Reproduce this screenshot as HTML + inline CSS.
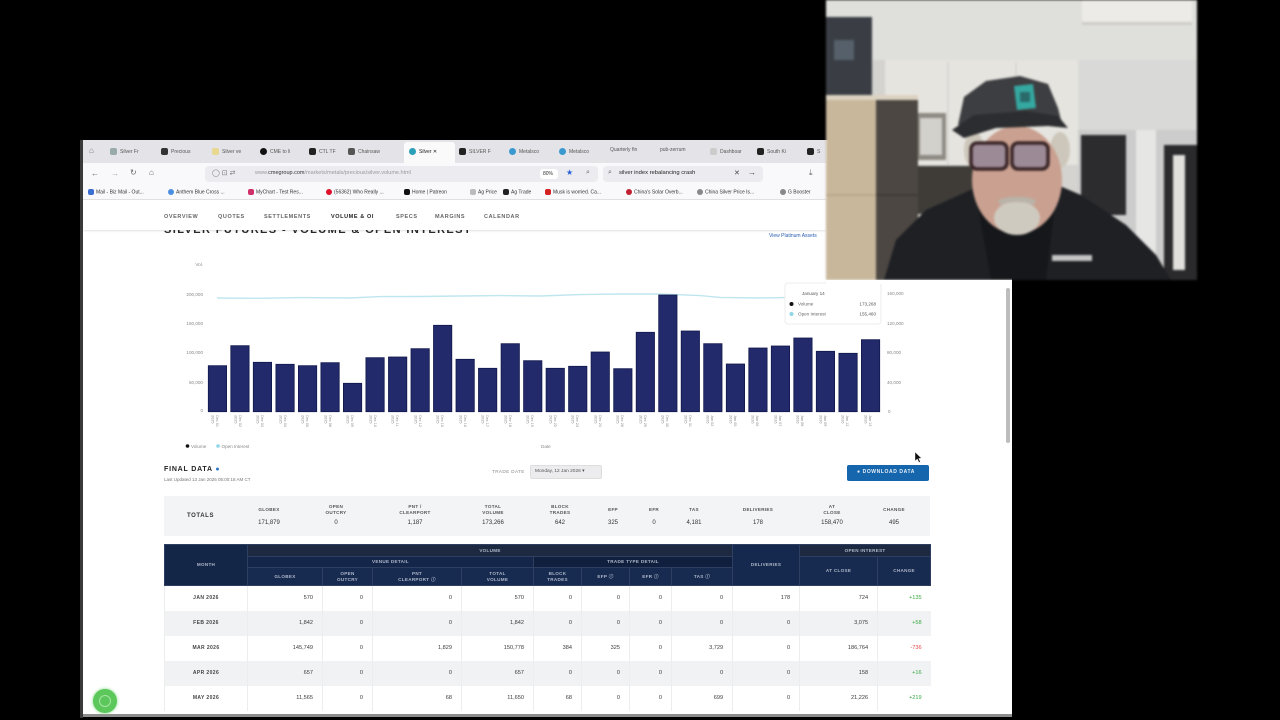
<!DOCTYPE html>
<html><head><meta charset="utf-8">
<style>
*{margin:0;padding:0;box-sizing:border-box}
body{width:1280px;height:720px;background:#000;position:relative;overflow:hidden;font-family:"Liberation Sans",sans-serif}
.a{position:absolute}
.t{position:absolute;white-space:nowrap;line-height:1}
.tab{position:absolute;top:148px;font-size:5px;color:#555;white-space:nowrap;line-height:1}
.tab i{display:inline-block;width:7px;height:7px;border-radius:2px;margin-right:3px;vertical-align:middle}
.bm{position:absolute;top:189px;font-size:5px;color:#333;white-space:nowrap;line-height:1}
.bm i{display:inline-block;width:6px;height:6px;border-radius:2px;margin-right:2px;vertical-align:middle}
.nav{position:absolute;top:214px;font-size:5.5px;color:#666;letter-spacing:0.6px;font-weight:bold;white-space:nowrap}
.th{position:absolute;font-size:4.6px;font-weight:bold;color:#555;text-align:center;line-height:6px;letter-spacing:0.3px}
.tv{position:absolute;top:520px;font-size:6px;color:#333;text-align:center}
table{border-collapse:collapse;table-layout:fixed;position:absolute;left:164px;top:544px;width:766px}
td{padding:0;overflow:hidden;white-space:nowrap}
.hd td{background:#172a50;color:#aeb7c8;font-size:4.6px;font-weight:bold;text-align:center;border:1px solid #2e3f62;letter-spacing:0.3px;line-height:5.5px}
.r td{height:25px;font-size:5.6px;color:#3a3a3a;text-align:right;padding-right:9px;border-left:1px solid #eceded}
.r td:first-child{text-align:center;padding-right:0;font-weight:bold;color:#444;font-size:5px;letter-spacing:0.4px}
.r.g td{background:#f1f2f4}
.up{color:#3aa845!important}
.dn{color:#e04848!important}
</style></head><body>

<!-- browser window frame -->
<div class="a" style="left:80px;top:140px;width:3px;height:578px;background:#3a3a3a"></div>
<div class="a" style="left:83px;top:140px;width:929px;height:575px;background:#fff"></div>
<div class="a" style="left:83px;top:714px;width:929px;height:3px;background:#8d8d8d"></div>

<!-- tab bar -->
<div class="a" style="left:83px;top:140px;width:743px;height:23px;background:#e4e4e8"></div>
<div class="a" style="left:404px;top:142px;width:51px;height:21px;background:#fafafb;border-radius:3px 3px 0 0"></div>
<div class="t" style="left:89px;top:147px;font-size:8px;color:#777">⌂</div>
<div class="tab" style="left:110px"><i style="background:#9aa"></i>Silver Fr</div>
<div class="tab" style="left:161px"><i style="background:#333"></i>Precious</div>
<div class="tab" style="left:212px"><i style="background:#e8d890"></i>Silver ve</div>
<div class="tab" style="left:260px"><i style="background:#111;border-radius:50%"></i>CME to li</div>
<div class="tab" style="left:309px"><i style="background:#222"></i>CTL TF</div>
<div class="tab" style="left:348px"><i style="background:#555"></i>Chainsaw</div>
<div class="tab" style="left:409px;color:#222"><i style="background:#2a9fb8;border-radius:50%"></i>Silver ✕</div>
<div class="tab" style="left:459px"><i style="background:#222"></i>SILVER F</div>
<div class="tab" style="left:509px"><i style="background:#3a9ad0;border-radius:50%"></i>Metalsco</div>
<div class="tab" style="left:559px"><i style="background:#3a9ad0;border-radius:50%"></i>Metalsco</div>
<div class="tab" style="left:610px">Quarterly fin</div>
<div class="tab" style="left:660px">pub-zerrum</div>
<div class="tab" style="left:710px"><i style="background:#ccc"></i>Dashboar</div>
<div class="tab" style="left:757px"><i style="background:#222"></i>South Ki</div>
<div class="tab" style="left:807px"><i style="background:#222"></i>S</div>

<!-- address row -->
<div class="a" style="left:83px;top:163px;width:743px;height:37px;background:#f9f9fb"></div>
<div class="t" style="left:91px;top:170px;font-size:8px;color:#666">←</div>
<div class="t" style="left:111px;top:170px;font-size:8px;color:#aaa">→</div>
<div class="t" style="left:130px;top:169px;font-size:8px;color:#666">↻</div>
<div class="t" style="left:149px;top:169px;font-size:8px;color:#666">⌂</div>
<div class="a" style="left:205px;top:166px;width:393px;height:16px;background:#ececf0;border-radius:4px"></div>
<div class="t" style="left:212px;top:170px;font-size:7px;color:#777">◯ ⊡ ⇄</div>
<div class="t" style="left:255px;top:171px;font-size:5.5px;color:#999">www.<span style="color:#333">cmegroup.com</span>/markets/metals/precious/silver.volume.html</div>
<div class="a" style="left:540px;top:169px;width:18px;height:10px;background:#fff;border-radius:3px"></div>
<div class="t" style="left:543px;top:172px;font-size:5px;color:#333">80%</div>
<div class="t" style="left:566px;top:169px;font-size:8px;color:#2a62d6">★</div>
<div class="t" style="left:586px;top:169px;font-size:7px;color:#666">⌕</div>
<div class="a" style="left:603px;top:166px;width:160px;height:16px;background:#ececf0;border-radius:4px"></div>
<div class="t" style="left:608px;top:169px;font-size:7px;color:#666">⌕</div>
<div class="t" style="left:619px;top:171px;font-size:5.8px;color:#222">silver index rebalancing crash</div>
<div class="t" style="left:734px;top:170px;font-size:7px;color:#444">✕</div>
<div class="t" style="left:748px;top:169px;font-size:8px;color:#444">→</div>
<div class="t" style="left:809px;top:169px;font-size:8px;color:#666">⤓</div>

<!-- bookmarks -->
<div class="bm" style="left:88px"><i style="background:#3b6fd0"></i>Mail - Biz Mail - Out...</div>
<div class="bm" style="left:168px"><i style="background:#4a8fe0;border-radius:50%"></i>Anthem Blue Cross ...</div>
<div class="bm" style="left:248px"><i style="background:#d0306a"></i>MyChart - Test Res...</div>
<div class="bm" style="left:326px"><i style="background:#e0102a;border-radius:50%"></i>(56362) Who Really ...</div>
<div class="bm" style="left:404px"><i style="background:#111"></i>Home | Patreon</div>
<div class="bm" style="left:470px"><i style="background:#bbb"></i>Ag Price</div>
<div class="bm" style="left:503px"><i style="background:#222"></i>Ag Trade</div>
<div class="bm" style="left:545px"><i style="background:#d42020"></i>Musk is worried. Ca...</div>
<div class="bm" style="left:626px"><i style="background:#c02030;border-radius:50%"></i>China's Solar Overb...</div>
<div class="bm" style="left:697px"><i style="background:#888;border-radius:50%"></i>China Silver Price Is...</div>
<div class="bm" style="left:780px"><i style="background:#888;border-radius:50%"></i>G Booster</div>
<div class="a" style="left:83px;top:199px;width:743px;height:1px;background:#e2e2e2"></div>

<!-- page title partially hidden -->
<div class="a" style="left:164px;top:230px;width:320px;height:9px;overflow:hidden">
  <div class="t" style="left:0;top:-5px;font-size:11px;font-weight:bold;color:#2a2a2a;letter-spacing:1.4px">SILVER FUTURES - VOLUME &amp; OPEN INTEREST</div>
</div>
<div class="t" style="left:769px;top:234px;font-size:5px;color:#2a5fb0">View Platinum Assets</div>

<!-- nav -->
<div class="a" style="left:83px;top:200px;width:743px;height:30px;background:#fff;box-shadow:0 1px 2px rgba(0,0,0,0.12)"></div>
<div class="nav" style="left:164px">OVERVIEW</div>
<div class="nav" style="left:218px">QUOTES</div>
<div class="nav" style="left:264px">SETTLEMENTS</div>
<div class="nav" style="left:331px;color:#222">VOLUME &amp; OI</div>
<div class="nav" style="left:396px">SPECS</div>
<div class="nav" style="left:435px">MARGINS</div>
<div class="nav" style="left:484px">CALENDAR</div>

<!-- chart -->
<svg class="a" style="left:0;top:0" width="1280" height="720" viewBox="0 0 1280 720" font-family="Liberation Sans, sans-serif">
  <g font-size="4.6" fill="#888" text-anchor="end">
    <text x="203" y="266">Vol.</text>
    <text x="203" y="296">200,000</text>
    <text x="203" y="325">150,000</text>
    <text x="203" y="354">100,000</text>
    <text x="203" y="384">50,000</text>
    <text x="203" y="412">0</text>
  </g>
  <g font-size="4.6" fill="#888">
    <text x="887" y="295">160,000</text>
    <text x="887" y="325">120,000</text>
    <text x="887" y="354">80,000</text>
    <text x="887" y="384">40,000</text>
    <text x="888" y="413">0</text>
  </g>
  <path d="M217,298 L260,298.3 L300,297.6 L350,298 L380,296.6 L420,296.5 L460,296 L500,295.6 L540,296 L580,294.6 L620,294 L660,294 L700,295.6 L720,297.4 L760,298 L790,297.5" fill="none" stroke="#bfe6ef" stroke-width="1.4"/>
  <g fill="#222a6c" stroke="#12184a" stroke-width="0.8">
    <rect x="208.3" y="365.7" width="18.3" height="46"/>
    <rect x="230.8" y="345.7" width="18.3" height="66"/>
    <rect x="253.3" y="362.3" width="18.3" height="49.4"/>
    <rect x="275.9" y="364.3" width="18.3" height="47.4"/>
    <rect x="298.4" y="365.7" width="18.3" height="46"/>
    <rect x="320.9" y="362.7" width="18.3" height="49"/>
    <rect x="343.4" y="383.3" width="18.3" height="28.4"/>
    <rect x="365.9" y="357.7" width="18.3" height="54"/>
    <rect x="388.5" y="357" width="18.3" height="54.7"/>
    <rect x="411.0" y="348.7" width="18.3" height="63"/>
    <rect x="433.5" y="325.3" width="18.3" height="86.4"/>
    <rect x="456.0" y="359.3" width="18.3" height="52.4"/>
    <rect x="478.5" y="368.3" width="18.3" height="43.4"/>
    <rect x="501.1" y="343.7" width="18.3" height="68"/>
    <rect x="523.6" y="360.7" width="18.3" height="51"/>
    <rect x="546.1" y="368.3" width="18.3" height="43.4"/>
    <rect x="568.6" y="366.3" width="18.3" height="45.4"/>
    <rect x="591.1" y="352" width="18.3" height="59.7"/>
    <rect x="613.7" y="368.7" width="18.3" height="43"/>
    <rect x="636.2" y="332.3" width="18.3" height="79.4"/>
    <rect x="658.7" y="295" width="18.3" height="116.7"/>
    <rect x="681.2" y="331" width="18.3" height="80.7"/>
    <rect x="703.7" y="343.7" width="18.3" height="68"/>
    <rect x="726.3" y="364" width="18.3" height="47.7"/>
    <rect x="748.8" y="348" width="18.3" height="63.7"/>
    <rect x="771.3" y="346" width="18.3" height="65.7"/>
    <rect x="793.8" y="338" width="18.3" height="73.7"/>
    <rect x="816.3" y="351.3" width="18.3" height="60.4"/>
    <rect x="838.9" y="353.3" width="18.3" height="58.4"/>
    <rect x="861.4" y="339.7" width="18.3" height="72"/>
  </g>
  <g font-size="3.8" fill="#8a8a8a">
    <g transform="translate(216,415) rotate(90)"><text>Dec 01</text><text y="4.5">2025</text></g>
    <g transform="translate(239,415) rotate(90)"><text>Dec 02</text><text y="4.5">2025</text></g>
    <g transform="translate(261,415) rotate(90)"><text>Dec 03</text><text y="4.5">2025</text></g>
    <g transform="translate(284,415) rotate(90)"><text>Dec 04</text><text y="4.5">2025</text></g>
    <g transform="translate(306,415) rotate(90)"><text>Dec 05</text><text y="4.5">2025</text></g>
    <g transform="translate(329,415) rotate(90)"><text>Dec 08</text><text y="4.5">2025</text></g>
    <g transform="translate(351,415) rotate(90)"><text>Dec 09</text><text y="4.5">2025</text></g>
    <g transform="translate(374,415) rotate(90)"><text>Dec 10</text><text y="4.5">2025</text></g>
    <g transform="translate(396,415) rotate(90)"><text>Dec 11</text><text y="4.5">2025</text></g>
    <g transform="translate(419,415) rotate(90)"><text>Dec 12</text><text y="4.5">2025</text></g>
    <g transform="translate(441,415) rotate(90)"><text>Dec 15</text><text y="4.5">2025</text></g>
    <g transform="translate(464,415) rotate(90)"><text>Dec 16</text><text y="4.5">2025</text></g>
    <g transform="translate(486,415) rotate(90)"><text>Dec 17</text><text y="4.5">2025</text></g>
    <g transform="translate(509,415) rotate(90)"><text>Dec 18</text><text y="4.5">2025</text></g>
    <g transform="translate(531,415) rotate(90)"><text>Dec 19</text><text y="4.5">2025</text></g>
    <g transform="translate(554,415) rotate(90)"><text>Dec 22</text><text y="4.5">2025</text></g>
    <g transform="translate(576,415) rotate(90)"><text>Dec 23</text><text y="4.5">2025</text></g>
    <g transform="translate(599,415) rotate(90)"><text>Dec 24</text><text y="4.5">2025</text></g>
    <g transform="translate(621,415) rotate(90)"><text>Dec 26</text><text y="4.5">2025</text></g>
    <g transform="translate(644,415) rotate(90)"><text>Dec 29</text><text y="4.5">2025</text></g>
    <g transform="translate(666,415) rotate(90)"><text>Dec 30</text><text y="4.5">2025</text></g>
    <g transform="translate(689,415) rotate(90)"><text>Dec 31</text><text y="4.5">2025</text></g>
    <g transform="translate(711,415) rotate(90)"><text>Jan 02</text><text y="4.5">2026</text></g>
    <g transform="translate(734,415) rotate(90)"><text>Jan 05</text><text y="4.5">2026</text></g>
    <g transform="translate(756,415) rotate(90)"><text>Jan 06</text><text y="4.5">2026</text></g>
    <g transform="translate(779,415) rotate(90)"><text>Jan 07</text><text y="4.5">2026</text></g>
    <g transform="translate(801,415) rotate(90)"><text>Jan 08</text><text y="4.5">2026</text></g>
    <g transform="translate(824,415) rotate(90)"><text>Jan 09</text><text y="4.5">2026</text></g>
    <g transform="translate(846,415) rotate(90)"><text>Jan 12</text><text y="4.5">2026</text></g>
    <g transform="translate(869,415) rotate(90)"><text>Jan 13</text><text y="4.5">2026</text></g>
  </g>
  <!-- legend -->
  <circle cx="187.5" cy="446" r="1.8" fill="#111"/>
  <text x="191" y="448" font-size="4.6" fill="#888">Volume</text>
  <circle cx="218" cy="446" r="1.8" fill="#8fd6e8"/>
  <text x="221.5" y="448" font-size="4.6" fill="#888">Open Interest</text>
  <text x="541" y="448" font-size="4.6" fill="#888">Date</text>
  <!-- tooltip -->
  <rect x="785" y="283" width="96" height="41" rx="3" fill="#fff" stroke="#ececec" stroke-width="1"/>
  <text x="802" y="295" font-size="4.6" fill="#555">January 14</text>
  <circle cx="791.5" cy="304" r="2" fill="#111"/>
  <text x="798" y="305.5" font-size="4.6" fill="#666">Volume</text>
  <text x="876" y="305.5" font-size="4.6" fill="#555" text-anchor="end">173,268</text>
  <circle cx="791.5" cy="314" r="2" fill="#8fd6e8"/>
  <text x="798" y="315.5" font-size="4.6" fill="#666">Open Interest</text>
  <text x="876" y="315.5" font-size="4.6" fill="#555" text-anchor="end">155,460</text>
  <!-- cursor -->
  <path d="M915,452 L915,461 L917.3,459 L919,462.5 L920.3,461.8 L918.7,458.5 L921.5,458.3 Z" fill="#111" stroke="#fff" stroke-width="0.4"/>
</svg>

<!-- final data header -->
<div class="t" style="left:164px;top:466px;font-size:7px;font-weight:bold;color:#222;letter-spacing:0.8px">FINAL DATA <span style="color:#2a78c8">●</span></div>
<div class="t" style="left:164px;top:478px;font-size:4.5px;color:#777">Last Updated 13 Jan 2026 05:00:18 AM CT</div>
<div class="t" style="left:492px;top:470px;font-size:4.6px;color:#888;letter-spacing:0.4px">TRADE DATE</div>
<div class="a" style="left:530px;top:465px;width:72px;height:14px;background:#ececee;border:1px solid #dedede;border-radius:2px"></div>
<div class="t" style="left:535px;top:470px;font-size:4.8px;color:#555">Monday, 12 Jan 2026 ▾</div>
<div class="a" style="left:847px;top:465px;width:82px;height:16px;background:#1566ad;border-radius:2px"></div>
<div class="t" style="left:857px;top:470px;font-size:5px;font-weight:bold;color:#e8f0fa;letter-spacing:0.6px">● DOWNLOAD DATA</div>

<!-- totals -->
<div class="a" style="left:164px;top:496px;width:766px;height:40px;background:#f3f4f6"></div>
<div class="t" style="left:187px;top:513px;font-size:6px;font-weight:bold;color:#333;letter-spacing:0.6px">TOTALS</div>
<div class="th" style="left:249px;top:507px;width:40px">GLOBEX</div>
<div class="th" style="left:316px;top:504px;width:40px">OPEN<br>OUTCRY</div>
<div class="th" style="left:390px;top:504px;width:50px">PNT /<br>CLEARPORT</div>
<div class="th" style="left:473px;top:504px;width:40px">TOTAL<br>VOLUME</div>
<div class="th" style="left:540px;top:504px;width:40px">BLOCK<br>TRADES</div>
<div class="th" style="left:598px;top:507px;width:30px">EFP</div>
<div class="th" style="left:639px;top:507px;width:30px">EFR</div>
<div class="th" style="left:679px;top:507px;width:30px">TAS</div>
<div class="th" style="left:733px;top:507px;width:50px">DELIVERIES</div>
<div class="th" style="left:812px;top:504px;width:40px">AT<br>CLOSE</div>
<div class="th" style="left:874px;top:507px;width:40px">CHANGE</div>
<div class="tv" style="left:249px;width:40px">171,879</div>
<div class="tv" style="left:316px;width:40px">0</div>
<div class="tv" style="left:390px;width:50px">1,187</div>
<div class="tv" style="left:473px;width:40px">173,266</div>
<div class="tv" style="left:540px;width:40px">642</div>
<div class="tv" style="left:598px;width:30px">325</div>
<div class="tv" style="left:639px;width:30px">0</div>
<div class="tv" style="left:679px;width:30px">4,181</div>
<div class="tv" style="left:733px;width:50px">178</div>
<div class="tv" style="left:812px;width:40px">158,470</div>
<div class="tv" style="left:874px;width:40px">495</div>

<!-- main table -->
<table>
<colgroup><col style="width:83px"><col style="width:75px"><col style="width:50px"><col style="width:89px"><col style="width:72px"><col style="width:48px"><col style="width:48px"><col style="width:42px"><col style="width:61px"><col style="width:67px"><col style="width:78px"><col style="width:53px"></colgroup>
<tr class="hd" style="height:12px"><td rowspan="3" style="background:#142648">MONTH</td><td colspan="8" style="background:#1d2940">VOLUME</td><td rowspan="3" style="background:#15284d">DELIVERIES</td><td colspan="2" style="background:#1d2940">OPEN INTEREST</td></tr>
<tr class="hd" style="height:11px"><td colspan="4" style="background:#14264a">VENUE DETAIL</td><td colspan="4" style="background:#101f3e">TRADE TYPE DETAIL</td><td rowspan="2">AT CLOSE</td><td rowspan="2">CHANGE</td></tr>
<tr class="hd" style="height:18px"><td>GLOBEX</td><td>OPEN<br>OUTCRY</td><td>PNT<br>CLEARPORT ⓘ</td><td>TOTAL<br>VOLUME</td><td>BLOCK<br>TRADES</td><td>EFP ⓘ</td><td>EFR ⓘ</td><td>TAS ⓘ</td></tr>
<tr class="r"><td>JAN 2026</td><td>570</td><td>0</td><td>0</td><td>570</td><td>0</td><td>0</td><td>0</td><td>0</td><td>178</td><td>724</td><td class="up">+135</td></tr>
<tr class="r g"><td>FEB 2026</td><td>1,842</td><td>0</td><td>0</td><td>1,842</td><td>0</td><td>0</td><td>0</td><td>0</td><td>0</td><td>3,075</td><td class="up">+58</td></tr>
<tr class="r"><td>MAR 2026</td><td>145,749</td><td>0</td><td>1,829</td><td>150,778</td><td>384</td><td>325</td><td>0</td><td>3,729</td><td>0</td><td>186,764</td><td class="dn">-736</td></tr>
<tr class="r g"><td>APR 2026</td><td>657</td><td>0</td><td>0</td><td>657</td><td>0</td><td>0</td><td>0</td><td>0</td><td>0</td><td>158</td><td class="up">+16</td></tr>
<tr class="r"><td>MAY 2026</td><td>11,565</td><td>0</td><td>68</td><td>11,650</td><td>68</td><td>0</td><td>0</td><td>699</td><td>0</td><td>21,226</td><td class="up">+219</td></tr>
</table>

<!-- green chat icon -->
<div class="a" style="left:93px;top:689px;width:24px;height:24px;border-radius:50%;background:#5cc75a;box-shadow:0 0 3px #7ad87a"></div>
<div class="a" style="left:99px;top:695px;width:12px;height:12px;border-radius:50%;border:1.5px solid #a6e6a4"></div>

<!-- scrollbar -->
<div class="a" style="left:1006px;top:288px;width:4px;height:155px;background:#bdbdbd;border-radius:2px"></div>

<!-- webcam -->
<svg class="a" style="left:826px;top:0;filter:blur(1px)" width="371" height="280" viewBox="0 0 371 280">
  <rect width="371" height="280" fill="#d4d3cf"/>
  <rect width="371" height="60" fill="#dfdfdc"/>
  <rect x="256" y="0" width="110" height="25" fill="#ecebe7"/>
  <rect x="256" y="22" width="110" height="3" fill="#cfcdc8"/>
  <rect x="59" y="60" width="193" height="105" fill="#e6e4df"/>
  <line x1="122" y1="62" x2="122" y2="165" stroke="#cfccc6" stroke-width="1"/>
  <line x1="190" y1="62" x2="190" y2="165" stroke="#cfccc6" stroke-width="1"/>
  <rect x="252" y="60" width="119" height="220" fill="#cbcccb"/>
  <rect x="252" y="60" width="119" height="70" fill="#d9d9d7"/>
  <rect x="310" y="130" width="20" height="150" fill="#e6e6e4"/>
  <rect x="255" y="135" width="45" height="80" fill="#2c2c2f"/>
  <rect x="338" y="145" width="33" height="135" fill="#2a2a2d"/>
  <rect x="347" y="155" width="12" height="115" fill="#e2e0dc"/>
  <rect x="90" y="166" width="60" height="48" fill="#3f3c38"/>
  <rect x="90" y="113" width="30" height="47" fill="#8e8a84"/>
  <rect x="94" y="118" width="22" height="37" fill="#d3d1cc"/>
  <rect x="0" y="17" width="46" height="80" fill="#3a3e44"/>
  <rect x="8" y="40" width="20" height="20" fill="#55606a"/>
  <rect x="0" y="95" width="92" height="7" fill="#ddd3c2"/>
  <rect x="0" y="100" width="50" height="180" fill="#c8b79b"/>
  <rect x="50" y="100" width="42" height="180" fill="#4c4742"/>
  <line x1="0" y1="195" x2="50" y2="195" stroke="#a9987c" stroke-width="1"/>
  <line x1="50" y1="195" x2="92" y2="195" stroke="#36322e" stroke-width="1"/>
  <path d="M58,280 L70,240 L100,210 L140,192 L170,178 L215,178 L255,195 L300,225 L330,255 L345,280 Z" fill="#1e2024"/>
  <path d="M150,195 L230,195 L220,280 L165,280 Z" fill="#15171a"/>
  <rect x="226" y="255" width="40" height="6" fill="#c4c4c4"/>
  <ellipse cx="148" cy="150" rx="10" ry="18" fill="#cdc7bb"/>
  <ellipse cx="234" cy="150" rx="10" ry="18" fill="#cdc7bb"/>
  <ellipse cx="191" cy="180" rx="45" ry="54" fill="#caa090"/>
  <ellipse cx="191" cy="218" rx="23" ry="17" fill="#cfcac0"/>
  <path d="M172,200 Q191,193 210,200 L208,205 Q191,199 174,205 Z" fill="#b9b3a8"/>
  <rect x="145" y="143" width="36" height="26" rx="6" fill="#9c8a96" stroke="#3b2628" stroke-width="3.5"/>
  <rect x="186" y="143" width="36" height="26" rx="6" fill="#9c8a96" stroke="#3b2628" stroke-width="3.5"/>
  <path d="M132,125 L138,97 L160,81 L194,76 L222,84 L232,108 L236,124 Z" fill="#3d3e41"/>
  <path d="M126,130 L148,115 L200,111 L232,116 L242,128 L222,126 L170,128 L138,138 Z" fill="#2c2d30"/>
  <path d="M188,86 L207,84 L210,108 L191,110 Z" fill="#35a8a1"/>
  <rect x="194" y="92" width="10" height="10" fill="#2a6a6a"/>
</svg>
<!-- white strip below webcam (page right side) -->
<div class="a" style="left:826px;top:280px;width:186px;height:4px;background:#fff"></div>

</body></html>
